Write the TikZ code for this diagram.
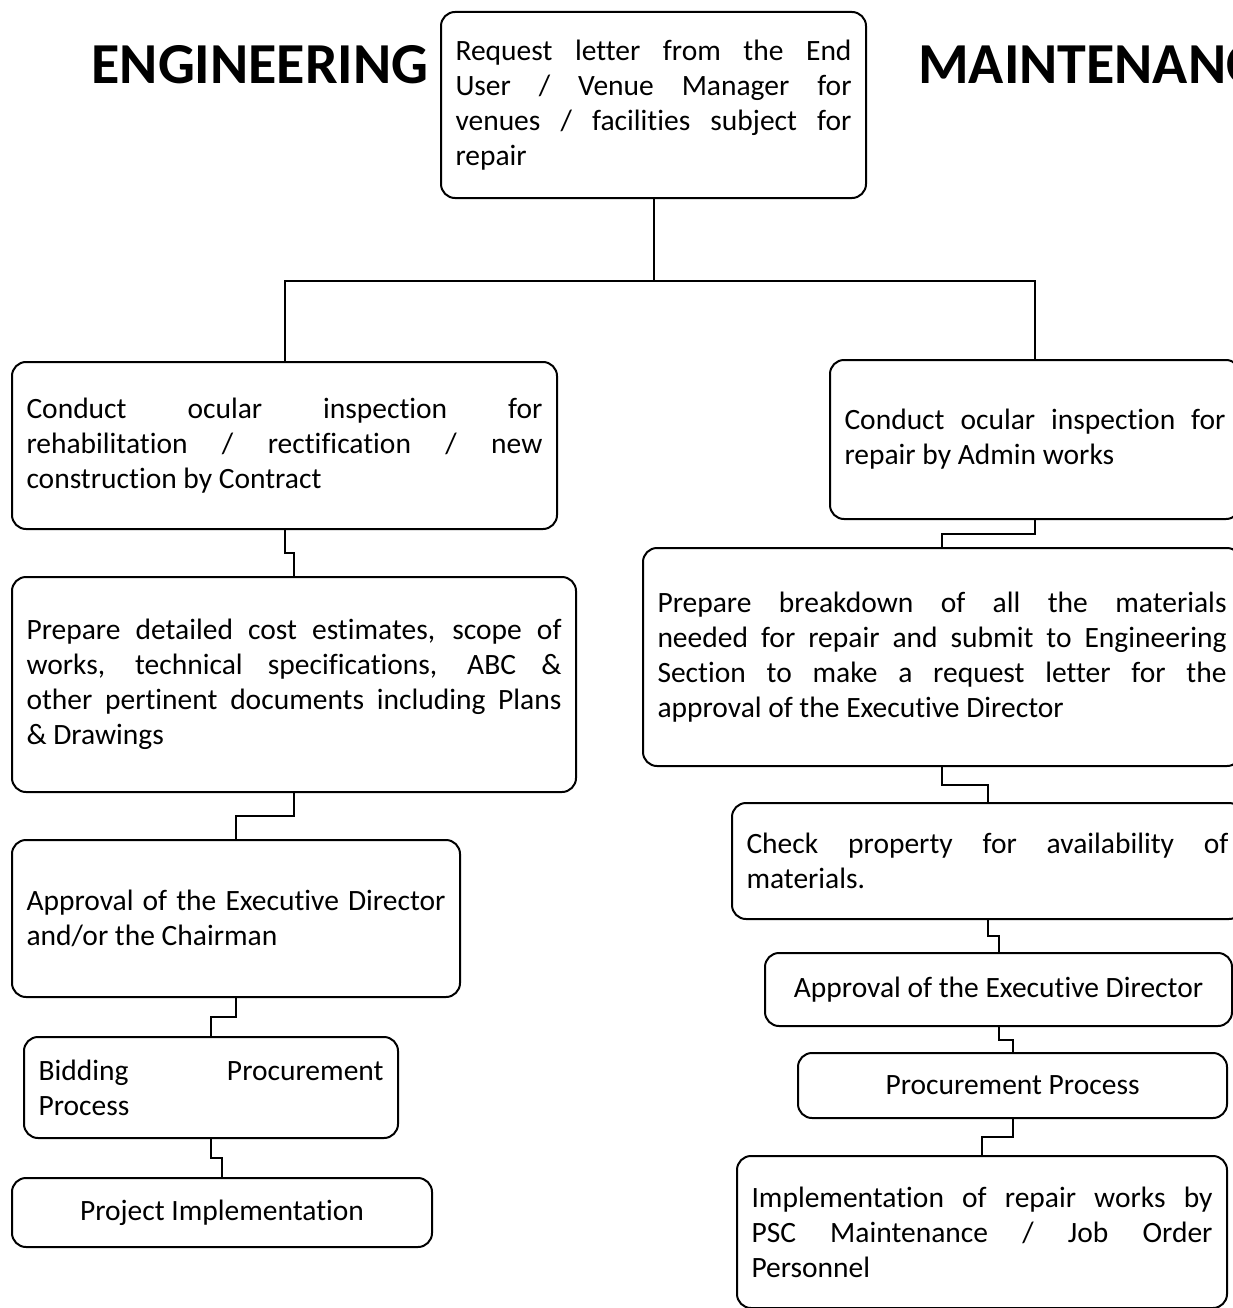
\documentclass[tikz,border=0pt]{standalone}
\usepackage{fontspec}
\setmainfont[Ligatures=NoCommon]{Carlito}
\usepackage{tikz}
\usetikzlibrary{calc}
\tikzset{flowbox/.style={draw=black, line width=2pt, rounded corners=14pt, align=justify, inner xsep=14pt, inner ysep=0pt, font=\fontsize{29.5}{35}\selectfont}, flowline/.style={line width=2pt}, heading/.style={font=\fontsize{58}{60}\selectfont\bfseries, inner sep=0pt}}

\begin{document}
\begin{tikzpicture}[x=1pt, y=-1pt]
\useasboundingbox (0,0) rectangle (1233,1308);
 \node[heading] (engtitle) at (260,65) {ENGINEERING};
 \node[heading, anchor=west] (maintitle) at (918,65) {MAINTENANCE};
 \node[flowbox, minimum width=425pt, minimum height=186pt, text width=396pt] (req) at (653.5,105) {Request letter from the End\linebreak User / Venue Manager for\linebreak venues / facilities subject for\linebreak repair};
  \node[flowbox, minimum width=545pt, minimum height=167pt, text width=516pt] (insp) at (284.5,445.5) {Conduct ocular inspection for\linebreak rehabilitation / rectification / new\linebreak construction by Contract};
  \node[flowbox, minimum width=564pt, minimum height=215pt, text width=535pt] (cost) at (294,684.5) {Prepare detailed cost estimates, scope of\linebreak works, technical specifications, ABC \&\linebreak other pertinent documents including Plans\linebreak \& Drawings};
  \node[flowbox, minimum width=448pt, minimum height=157pt, text width=419pt] (chair) at (236,918.5) {Approval of the Executive Director\linebreak and/or the Chairman};
  \node[flowbox, minimum width=374pt, minimum height=101pt, text width=345pt] (bid) at (211,1087.5) {Bidding Procurement\linebreak Process};
  \node[flowbox, align=center, minimum width=420pt, minimum height=69pt] (proj) at (222,1212.5) {Project Implementation};
   \node[flowbox, minimum width=410pt, minimum height=159pt, text width=381pt] (admin) at (1035,439.5) {Conduct ocular inspection for\linebreak repair by Admin works};
   \node[flowbox, minimum width=598pt, minimum height=218pt, text width=569pt] (brk) at (942,657) {Prepare breakdown of all the materials\linebreak needed for repair and submit to Engineering\linebreak Section to make a request letter for the\linebreak approval of the Executive Director};
   \node[flowbox, minimum width=511pt, minimum height=116pt, text width=482pt] (chk) at (987.5,861) {Check property for availability of\linebreak materials.};
   \node[flowbox, align=center, minimum width=467pt, minimum height=73pt] (edir) at (998.5,989.5) {Approval of the Executive Director};
   \node[flowbox, align=center, minimum width=429pt, minimum height=65pt] (proc) at (1012.5,1085.5) {Procurement Process};
   \node[flowbox, minimum width=490pt, minimum height=152pt, text width=461pt] (impl) at (982,1232) {Implementation of repair works by\linebreak PSC Maintenance / Job Order\linebreak Personnel};
 \draw[flowline] (req.south) -- ++(0,82) coordinate (split);
 \draw[flowline] (insp.north) |- (split) -| (admin.north);
  \draw[flowline] (insp.south) |- ($(insp.south)!.5!(cost.north)$) -| (cost.north);
  \draw[flowline] (cost.south) |- ($(cost.south)!.5!(chair.north)$) -| (chair.north);
  \draw[flowline] (chair.south) |- ($(chair.south)!.5!(bid.north)$) -| (bid.north);
  \draw[flowline] (bid.south) |- ($(bid.south)!.5!(proj.north)$) -| (proj.north);
   \draw[flowline] (admin.south) |- ($(admin.south)!.5!(brk.north)$) -| (brk.north);
   \draw[flowline] (brk.south) |- ($(brk.south)!.5!(chk.north)$) -| (chk.north);
   \draw[flowline] (chk.south) |- ($(chk.south)!.5!(edir.north)$) -| (edir.north);
   \draw[flowline] (edir.south) |- ($(edir.south)!.5!(proc.north)$) -| (proc.north);
   \draw[flowline] (proc.south) |- ($(proc.south)!.5!(impl.north)$) -| (impl.north);
\end{tikzpicture}
\end{document}
